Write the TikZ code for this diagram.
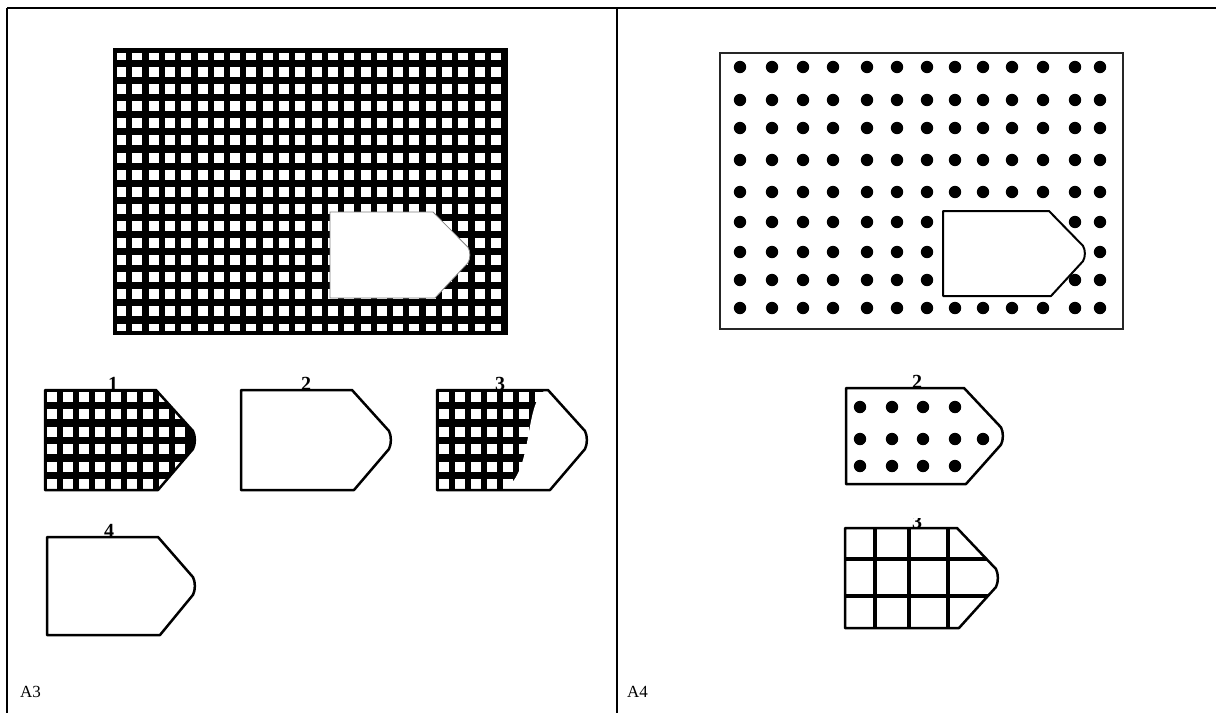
\documentclass[tikz,border=0pt]{standalone}
\usepackage{fontspec}
\setmainfont{Liberation Serif}
\newcommand\pent[3]{(0,0) -- (#1,0) -- ({#2-2},{0.41*#3}) .. controls ({#2+0.5},{0.46*#3}) and ({#2+0.5},{0.54*#3}) .. ({#2-2},{0.59*#3}) -- ({#1+2},#3) -- (0,#3) -- cycle}
\tikzset{
  piece/.style={draw=black, line width=2.5pt, line join=round},
  lab/.style={font=\bfseries\fontsize{20}{20}\selectfont, inner sep=0pt, anchor=base},
  panel/.style={font=\fontsize{17}{17}\selectfont, inner sep=0pt, anchor=base west},
  frame/.style={line width=1.4pt}
}
\begin{document}
\begin{tikzpicture}[x=1pt,y=-1pt]
\useasboundingbox (0,0) rectangle (1216,713);
\fill[white] (0,0) rectangle (1216,713);
% frame
\draw[line width=2.2pt] (7,8) -- (1216,8);
\draw[frame] (7,8) -- (7,713);
\draw[frame] (617,8) -- (617,713);

% ===== A3 big grid =====
\fill[black] (113,48) rectangle (508,335);
\begin{scope}
  \clip (117,53) rectangle (504,330);
  \foreach \i in {0,...,23} \foreach \j in {-1,...,15}
    \fill[white] ({116+16.3*\i},{67+17.1*\j}) rectangle ++(10,10);
\end{scope}
\begin{scope}[shift={(330,212)}]
  \fill[white,draw=gray,line width=0.8pt] \pent{103}{140}{86};
\end{scope}

% piece 1
\begin{scope}[shift={(45,390)}]
  \fill[black] \pent{111}{150}{100};
  \begin{scope}
    \clip \pent{111}{150}{100};
    \foreach \i in {0,...,8} \foreach \j in {0,...,5}
      \fill[white] ({1.5+16*\i},{2+17.4*\j}) rectangle ++(10,10);
  \end{scope}
  \draw[piece] \pent{111}{150}{100};
\end{scope}
\node[lab] (l1) at (113,390) {1};

% piece 2
\begin{scope}[shift={(241,390)}]
  \draw[piece,fill=white] \pent{111}{150}{100};
\end{scope}
\node[lab] (l2) at (306,390) {2};

% piece 3
\begin{scope}[shift={(437,390)}]
  \fill[black] \pent{111}{150}{100};
  \begin{scope}
    \clip \pent{111}{150}{100};
    \foreach \i in {0,...,8} \foreach \j in {0,...,5}
      \fill[white] ({1.5+16*\i},{2+17.4*\j}) rectangle ++(10,10);
    \fill[white] (112,-2) .. controls (84,8) and (100,88) .. (62,102) -- (160,102) -- (160,-2) -- cycle;
  \end{scope}
  \draw[piece] \pent{111}{150}{100};
\end{scope}
\node[lab] (l3) at (500,390) {3};

% piece 4
\begin{scope}[shift={(47,537)}]
  \draw[piece,fill=white] \pent{111}{148}{98};
\end{scope}
\node[lab] (l4) at (109,537) {4};

\node[panel] (a3) at (20,697) {A3};

% ===== A4 =====
\draw[line width=2.8pt,draw=black!85] (720,53) rectangle (1123,329);
\foreach \x in {740,772,803,833,867,897,927,955,983,1012,1043,1075,1100}
  \foreach \y in {67,100,128,160,192,222,252,280,308}
    \fill[black] (\x,\y) circle (6.2pt);
\begin{scope}[shift={(943,211)}]
  \fill[white,draw=black,line width=2pt,line join=round] \pent{106}{142}{85};
\end{scope}

% right piece 2
\begin{scope}[shift={(846,388)}]
  \draw[piece,fill=white] \pent{118}{157}{96};
\end{scope}
\foreach \x in {860,892,923,955}
  \foreach \y in {407,439,466}
    \fill[black] (\x,\y) circle (6.2pt);
\fill[black] (983,439) circle (6.2pt);
\node[lab] (r2) at (917,388) {2};

% right piece 3
\begin{scope}[shift={(845,528)}]
  \begin{scope}
    \clip \pent{112}{153}{100};
    \foreach \x in {30,64,103} \draw[line width=3.2pt] (\x,0) -- (\x,100);
    \foreach \y in {31,68} \draw[line width=3.2pt] (0,\y) -- (160,\y);
  \end{scope}
  \draw[piece] \pent{112}{153}{100};
\end{scope}
\begin{scope}
  \clip (900,518) rectangle (935,530);
  \node[lab] (r3) at (917,528) {3};
\end{scope}

\node[panel] (a4) at (627,697) {A4};
\end{tikzpicture}
\end{document}
